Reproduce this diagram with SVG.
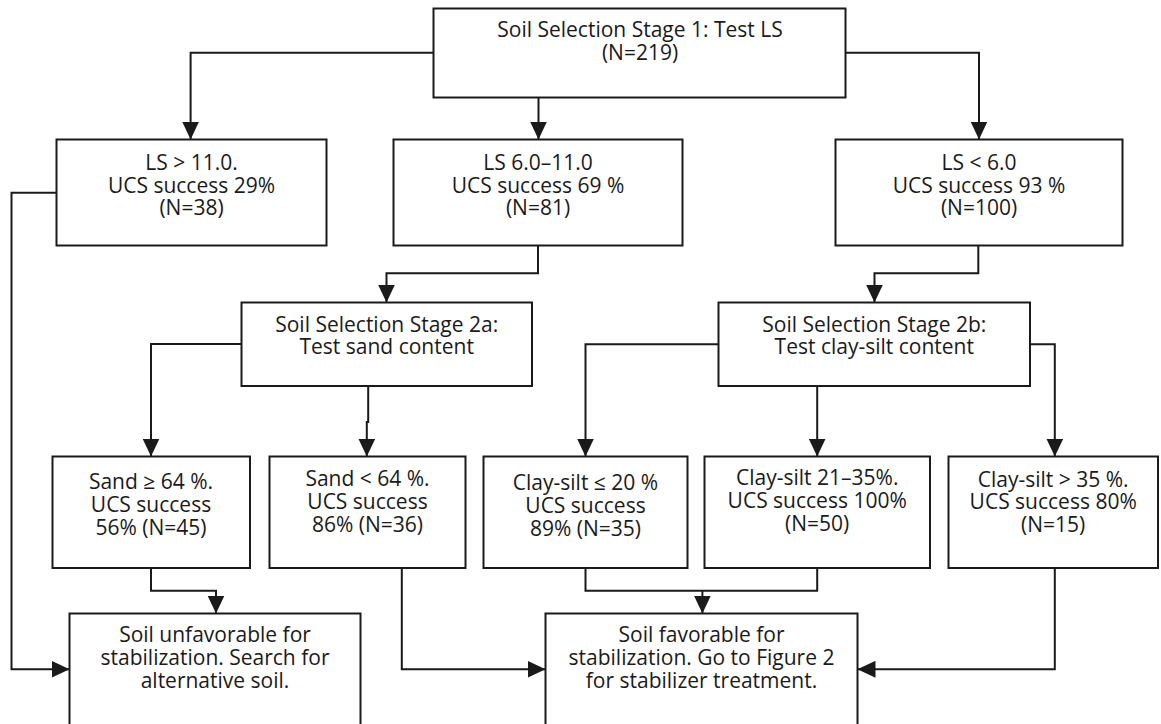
<svg xmlns="http://www.w3.org/2000/svg" width="1161" height="724" viewBox="0 0 1161 724">
<style>
.box{fill:#ffffff;stroke:#1a1a1a;stroke-width:2}
.t{font-family:"Open Sans","Liberation Sans",sans-serif;font-size:21px;fill:#1a1a1a;text-anchor:middle}
.c{fill:none;stroke:#1a1a1a;stroke-width:2}
.a{marker-end:url(#ah)}
</style>
<defs>
<marker id="ah" viewBox="0 0 18 17" refX="18" refY="8.5" markerWidth="18" markerHeight="17" markerUnits="userSpaceOnUse" orient="auto">
<path d="M0,0 L18,8.5 L0,17 z" fill="#1a1a1a"/>
</marker>
</defs>
<rect width="1161" height="724" fill="#ffffff"/>
<g id="connectors">
<path class="c a" d="M433.5,52.7 H190.6 V139.5"/>
<path class="c a" d="M538.5,97.5 V139.5"/>
<path class="c a" d="M845.5,52.7 H979 V139.5"/>
<path class="c a" d="M538,245.5 V273.3 H386.5 V302.5"/>
<path class="c a" d="M978.3,245.5 V273.3 H874.5 V302.5"/>
<path class="c a" d="M241.5,344 H151 V456.5"/>
<path class="c a" d="M368.2,386 V422 H366.8 V456.5"/>
<path class="c a" d="M718.5,344.3 H585.5 V456.5"/>
<path class="c a" d="M817.2,386 V456.5"/>
<path class="c a" d="M1030,344.3 H1054.8 V456.5"/>
<path class="c a" d="M56.5,192.7 H11.5 V669.3 H69.5"/>
<path class="c a" d="M151,568 V590.7 H216 V613.5"/>
<path class="c a" d="M401.8,568 V669.3 H545.5"/>
<path class="c" d="M585.5,568 V590.7 H817.2 V568"/>
<path class="c a" d="M702.4,590.7 V613.5"/>
<path class="c a" d="M1054.8,568 V669.3 H857.5"/>
</g>
<g id="stage1">
<rect class="box" x="433.5" y="8.5" width="412" height="89"/>
<text class="t" x="640" y="36.7">Soil Selection Stage 1: Test LS</text>
<text class="t" x="640" y="59.5">(N=219)</text>
</g>
<g id="ls-high">
<rect class="box" x="56.5" y="139.5" width="270" height="106"/>
<text class="t" x="191.5" y="169.7">LS &gt; 11.0.</text>
<text class="t" x="191.5" y="192.5">UCS success 29%</text>
<text class="t" x="191.5" y="215">(N=38)</text>
</g>
<g id="ls-mid">
<rect class="box" x="393.5" y="139.5" width="289" height="106"/>
<text class="t" x="538" y="169.7">LS 6.0–11.0</text>
<text class="t" x="538" y="192.5">UCS success 69 %</text>
<text class="t" x="538" y="215">(N=81)</text>
</g>
<g id="ls-low">
<rect class="box" x="835.5" y="139.5" width="287" height="106"/>
<text class="t" x="979" y="169.7">LS &lt; 6.0</text>
<text class="t" x="979" y="192.5">UCS success 93 %</text>
<text class="t" x="979" y="215">(N=100)</text>
</g>
<g id="stage2a">
<rect class="box" x="241.5" y="302.5" width="290.5" height="83.5"/>
<text class="t" x="386.7" y="331.7">Soil Selection Stage 2a:</text>
<text class="t" x="386.7" y="354">Test sand content</text>
</g>
<g id="stage2b">
<rect class="box" x="718.5" y="302.5" width="311.5" height="83.5"/>
<text class="t" x="874.3" y="331.7">Soil Selection Stage 2b:</text>
<text class="t" x="874.3" y="354">Test clay-silt content</text>
</g>
<g id="sand-high">
<rect class="box" x="52.5" y="456.5" width="197.5" height="111.5"/>
<text class="t" x="151" y="489">Sand ≥ 64 %.</text>
<text class="t" x="151" y="512">UCS success</text>
<text class="t" x="151" y="535">56% (N=45)</text>
</g>
<g id="sand-low">
<rect class="box" x="269.5" y="456.5" width="196" height="111.5"/>
<text class="t" x="367.5" y="485.5">Sand &lt; 64 %.</text>
<text class="t" x="367.5" y="508.5">UCS success</text>
<text class="t" x="367.5" y="531.5">86% (N=36)</text>
</g>
<g id="clay-low">
<rect class="box" x="483.5" y="456.5" width="204" height="111.5"/>
<text class="t" x="585.5" y="490">Clay-silt ≤ 20 %</text>
<text class="t" x="585.5" y="513">UCS success</text>
<text class="t" x="585.5" y="536">89% (N=35)</text>
</g>
<g id="clay-mid">
<rect class="box" x="704.5" y="456.5" width="225.5" height="111.5"/>
<text class="t" x="817.2" y="485">Clay-silt 21–35%.</text>
<text class="t" x="817.2" y="508">UCS success 100%</text>
<text class="t" x="817.2" y="531">(N=50)</text>
</g>
<g id="clay-high">
<rect class="box" x="948.5" y="456.5" width="209.5" height="111.5"/>
<text class="t" x="1053.2" y="486.5">Clay-silt &gt; 35 %.</text>
<text class="t" x="1053.2" y="509">UCS success 80%</text>
<text class="t" x="1053.2" y="531.5">(N=15)</text>
</g>
<g id="unfavorable">
<rect class="box" x="69.5" y="613.5" width="291" height="120"/>
<text class="t" x="215" y="642">Soil unfavorable for</text>
<text class="t" x="215" y="665">stabilization. Search for</text>
<text class="t" x="215" y="688">alternative soil.</text>
</g>
<g id="favorable">
<rect class="box" x="545.5" y="613.5" width="312" height="120"/>
<text class="t" x="701.5" y="642">Soil favorable for</text>
<text class="t" x="701.5" y="665">stabilization. Go to Figure 2</text>
<text class="t" x="701.5" y="688">for stabilizer treatment.</text>
</g>
</svg>
